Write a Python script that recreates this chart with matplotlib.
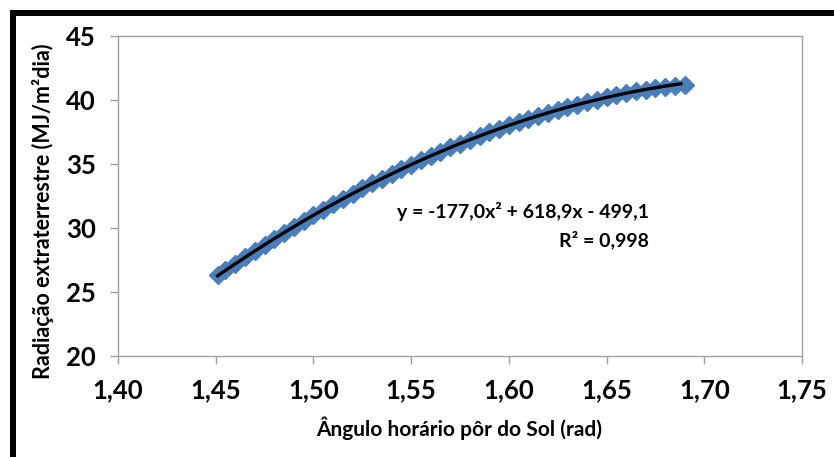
import matplotlib
matplotlib.use("Agg")
import matplotlib.pyplot as plt
from matplotlib.lines import Line2D
import numpy as np

plt.rcParams['font.family'] = ['Lato', 'DejaVu Sans']

# Data (sunset hour angle vs extraterrestrial radiation)
angle_rad = [1.451, 1.455, 1.460, 1.465, 1.470, 1.475, 1.480, 1.485, 1.490, 1.495,
             1.500, 1.505, 1.510, 1.515, 1.520, 1.525, 1.530, 1.535, 1.540, 1.545,
             1.550, 1.555, 1.560, 1.565, 1.570, 1.575, 1.580, 1.585, 1.590, 1.595,
             1.600, 1.605, 1.610, 1.615, 1.620, 1.625, 1.630, 1.635, 1.640, 1.645,
             1.650, 1.655, 1.660, 1.665, 1.670, 1.675, 1.680, 1.685, 1.690]
radiation = [26.30, 26.70, 27.20, 27.71, 28.20, 28.69, 29.17, 29.64, 30.10, 30.56,
             31.00, 31.44, 31.86, 32.28, 32.69, 33.09, 33.48, 33.86, 34.23, 34.60,
             34.95, 35.30, 35.64, 35.97, 36.29, 36.60, 36.90, 37.19, 37.48, 37.75,
             38.02, 38.28, 38.53, 38.77, 39.00, 39.22, 39.44, 39.64, 39.84, 40.02,
             40.20, 40.37, 40.53, 40.68, 40.82, 40.95, 41.05, 41.12, 41.18]
trend_coeffs = [-177.0, 618.9, -499.1]
x_ticks = [1.40, 1.45, 1.50, 1.55, 1.60, 1.65, 1.70, 1.75]
y_ticks = [20, 25, 30, 35, 40, 45]
equation_text = "y = -177,0x² + 618,9x - 499,1\nR² = 0,998"

fig = plt.figure(figsize=(8.34, 4.57), dpi=100)
ax = fig.add_axes([118/834, 1-356/457, 684/834, 320/457])

ax.plot(angle_rad, radiation, linestyle='none', marker='D', markersize=9.5,
        markerfacecolor='#4A7EBB', markeredgecolor='#4A7EBB', markeredgewidth=1.0,
        zorder=2)

xt = np.linspace(min(angle_rad), max(angle_rad) - 0.002, 200)
ax.plot(xt, np.polyval(trend_coeffs, xt), color='black', linewidth=2.4, zorder=3)

ax.set_xlim(1.40, 1.75)
ax.set_ylim(20, 45)
ax.set_xticks(x_ticks)
ax.set_yticks(y_ticks)
ax.set_xticklabels([f"{v:.2f}".replace('.', ',') for v in x_ticks],
                   fontsize=18.5, fontweight='bold')
ax.set_yticklabels([str(v) for v in y_ticks], fontsize=18.5, fontweight='bold')

for s in ax.spines.values():
    s.set_color('#A0A0A0')
    s.set_linewidth(1.0)
ax.tick_params(axis='both', direction='out', length=6, width=1.0, color='#A0A0A0',
               pad=10)

ax.set_xlabel("Ângulo horário pôr do Sol (rad)", fontsize=15, fontweight='bold')
ax.set_ylabel("Radiação extraterrestre (MJ/m²dia)", fontsize=15.5, fontweight='bold')
ax.xaxis.set_label_coords(0.499, -0.1875)
ax.yaxis.set_label_coords(-0.0936, 0.453)

ax.text(1.6717, 32.0, equation_text, ha='right', va='top', fontsize=14,
        fontweight='bold', multialignment='right', linespacing=1.55,
        transform=ax.transData)

# Thick black frame on top and left
fig.add_artist(Line2D([13/834, 1.0], [1-12.5/457, 1-12.5/457], color='black',
                      linewidth=4.3, solid_capstyle='projecting',
                      transform=fig.transFigure))
fig.add_artist(Line2D([13/834, 13/834], [0.0, 1-12.5/457], color='black',
                      linewidth=4.3, solid_capstyle='projecting',
                      transform=fig.transFigure))

fig.savefig("out.png", dpi=100)
